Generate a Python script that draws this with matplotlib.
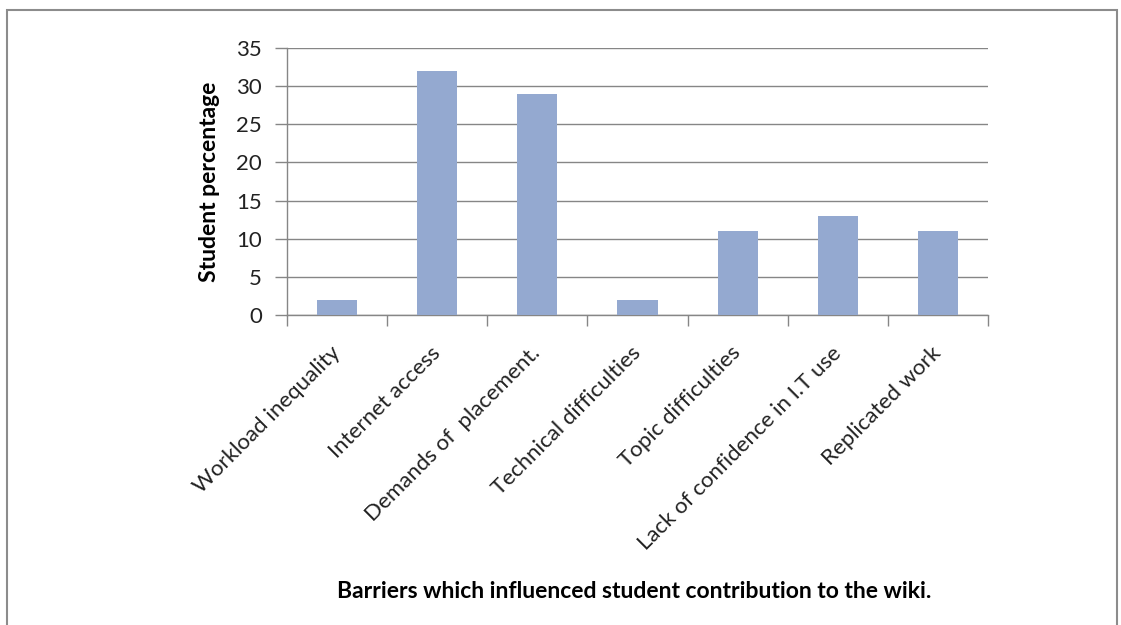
import matplotlib
matplotlib.use('Agg')
import matplotlib.pyplot as plt
import matplotlib.transforms as mtransforms
from matplotlib.patches import Rectangle

###############################################################################

categories = ['Workload inequality', 'Internet access', 'Demands of  placement.',
              'Technical difficulties', 'Topic difficulties',
              'Lack of confidence in I.T use', 'Replicated work']
values = [2, 32, 29, 2, 11, 13, 11]
yticks = [0, 5, 10, 15, 20, 25, 30, 35]

bar_color = '#94A9D0'
grid_color = '#868686'

###############################################################################

plt.rcParams['font.family'] = ['Lato', 'DejaVu Sans']

fig = plt.figure(figsize=(11.21, 6.25), dpi=100)
ax = fig.add_axes([287 / 1121, 1 - 315 / 625, 701 / 1121, 267 / 625])

# outer chart border
fig.patches.append(Rectangle((7 / 1121, -0.01), 1110 / 1121, 1 - 10 / 625 + 0.01,
                             transform=fig.transFigure, fill=False,
                             edgecolor='#8c8c8c', linewidth=1.5))

x = list(range(len(categories)))
ax.bar(x, values, width=0.4, color=bar_color, zorder=3)

ax.set_xlim(-0.5, len(categories) - 0.5)
ax.set_ylim(0, 35)
ax.set_yticks(yticks)
ax.yaxis.grid(True, color=grid_color, linewidth=1.0, zorder=0)
ax.set_axisbelow(True)

for s in ['top', 'right']:
    ax.spines[s].set_visible(False)
for s in ['left', 'bottom']:
    ax.spines[s].set_color(grid_color)
    ax.spines[s].set_linewidth(1.0)

ax.tick_params(axis='y', length=9, width=1, color=grid_color,
               labelsize=16, pad=9, labelcolor='#222222')
ax.set_xticks([i - 0.5 for i in range(len(categories) + 1)], minor=True)
ax.set_xticks(x)
ax.set_xticklabels(categories, rotation=45, ha='right',
                   rotation_mode='anchor', fontsize=16, color='#222222')
ax.tick_params(axis='x', which='major', length=0, pad=20)
ax.tick_params(axis='x', which='minor', length=8, width=1, color=grid_color)

# nudge the slanted labels a little to the left
shift = mtransforms.ScaledTranslation(-7 / 100, 0, fig.dpi_scale_trans)
for lbl in ax.get_xticklabels():
    lbl.set_transform(lbl.get_transform() + shift)

ax.set_ylabel('Student percentage', fontsize=16.5, fontweight='bold',
              labelpad=12)
fig.text(634 / 1121, 1 - 592 / 625, 'Barriers which influenced student contribution to the wiki.',
         ha='center', va='center', fontsize=16.5, fontweight='bold')

plt.savefig('out.png', dpi=100)
